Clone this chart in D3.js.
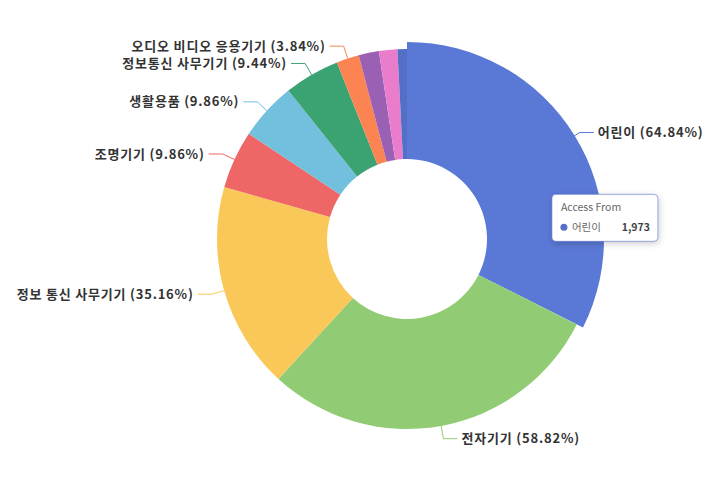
<!DOCTYPE html>
<html>
<head>
<meta charset="utf-8">
<script src="https://cdn.jsdelivr.net/npm/d3@7"></script>
<style>
body { margin: 0; background: #fff; }
text { font-family: "Noto Sans CJK KR", "Noto Sans", sans-serif; }
</style>
</head>
<body>
<script>
// chart data
var categories = ["어린이", "전자기기", "정보 통신 사무기기", "조명기기", "생활용품",
                  "정보통신 사무기기", "오디오 비디오 응용기기", "기타 1", "기타 2", "기타 3"];
var values = [1973, 1790, 1070, 300, 300, 287, 117, 105, 95, 49];
var labelPct = ["64.84%", "58.82%", "35.16%", "9.86%", "9.86%", "9.44%", "3.84%", null, null, null];
var colours = ["#5470c6", "#91cc75", "#fac858", "#ee6666", "#73c0de",
               "#3ba272", "#fc8452", "#9a60b4", "#ea7ccc", "#5470c6"];
var tooltipTitle = "Access From";
var hovered = 0;

var width = 726, height = 480;
var cx = 407, cy = 239, rInner = 80, rOuter = 190, grow = 7;

var svg = d3.select("body").append("svg")
	.attr("width", width).attr("height", height);

var defs = svg.append("defs");
var shadow = defs.append("filter").attr("id", "shadow")
	.attr("x", "-20%").attr("y", "-20%").attr("width", "140%").attr("height", "160%");
shadow.append("feDropShadow").attr("dx", 1).attr("dy", 2).attr("stdDeviation", 3)
	.attr("flood-color", "#000").attr("flood-opacity", 0.2);

var g = svg.append("g").attr("transform", "translate(" + cx + "," + cy + ")");

var pie = d3.pie().sort(null).value(function(d) { return d; });
var arcs = pie(values);

function outerR(i) { return i === hovered ? rOuter + grow : rOuter; }
function fillOf(i) {
	return i === hovered ? d3.color(colours[i]).brighter(0.2).formatHex() : colours[i];
}

var arc = d3.arc().innerRadius(rInner).outerRadius(function(d) { return outerR(d.index); });

g.selectAll("path.slice").data(arcs).enter().append("path")
	.attr("class", "slice")
	.attr("d", arc)
	.attr("fill", function(d) { return fillOf(d.index); });

/* label lines + labels: first a radial bit, then a flat bit */
var len1 = 13, len2 = 14, minGap = 17;
var lineGen = d3.line().curve(d3.curveLinear);

var labels = arcs.filter(function(d) { return labelPct[d.index] !== null; }).map(function(d) {
	var a = (d.startAngle + d.endAngle) / 2;
	return {
		d: d,
		right: Math.sin(a) >= 0,
		p1: [Math.sin(a) * rOuter, -Math.cos(a) * rOuter],
		p2: [Math.sin(a) * (rOuter + len1), -Math.cos(a) * (rOuter + len1)]
	};
});

/* push labels on the same side apart (upwards) so they don't overlap */
[true, false].forEach(function(side) {
	var s = labels.filter(function(l) { return l.right === side; })
		.sort(function(a, b) { return b.p2[1] - a.p2[1]; });
	for (var k = 1; k < s.length; k++) {
		if (s[k - 1].p2[1] - s[k].p2[1] < minGap) s[k].p2[1] = s[k - 1].p2[1] - minGap;
	}
});

labels.forEach(function(l) {
	var i = l.d.index;
	var p3 = [l.p2[0] + (l.right ? len2 : -len2), l.p2[1]];
	g.append("path")
		.attr("d", lineGen([l.p1, l.p2, p3]))
		.attr("fill", "none")
		.attr("stroke", fillOf(i))
		.attr("stroke-width", 1);
	g.append("text")
		.attr("x", p3[0] + (l.right ? 4 : -4))
		.attr("y", p3[1])
		.attr("dy", "0.35em")
		.attr("text-anchor", l.right ? "start" : "end")
		.attr("font-size", 13)
		.attr("letter-spacing", 0.8)
		.attr("font-weight", "bold")
		.attr("fill", "#333")
		.text(categories[i] + " (" + labelPct[i] + ")");
});

/* tooltip of the hovered slice */
var tipArc = d3.arc().innerRadius(rInner).outerRadius(rOuter + grow);
var c = tipArc.centroid(arcs[hovered]);
var tx = cx + c[0] + 27, ty = cy + c[1] + 28;
var tip = svg.append("g").attr("transform", "translate(" + tx + "," + ty + ")");
tip.append("rect")
	.attr("width", 106).attr("height", 47).attr("rx", 4)
	.attr("fill", "#fff").attr("stroke", colours[hovered]).attr("stroke-opacity", 0.6)
	.attr("filter", "url(#shadow)");
tip.append("text").attr("x", 9).attr("y", 17)
	.attr("font-size", 10.5).attr("fill", "#666").text(tooltipTitle);
tip.append("circle").attr("cx", 12).attr("cy", 33).attr("r", 3.5)
	.attr("fill", colours[hovered]);
tip.append("text").attr("x", 20).attr("y", 37)
	.attr("font-size", 10.5).attr("fill", "#666").text(categories[hovered]);
tip.append("text").attr("x", 98).attr("y", 37).attr("text-anchor", "end")
	.attr("font-size", 10.5).attr("font-weight", "bold").attr("fill", "#444")
	.text(d3.format(",")(values[hovered]));
</script>
</body>
</html>
